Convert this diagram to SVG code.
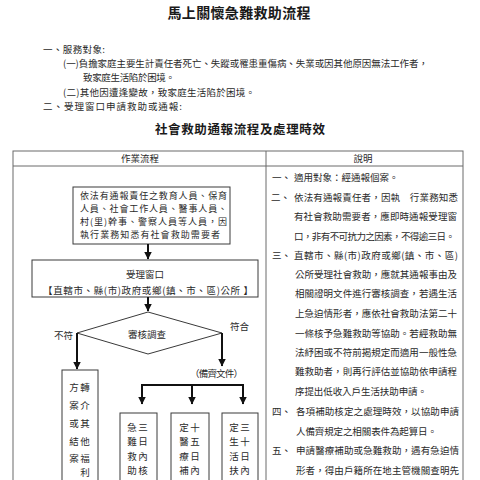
<svg xmlns="http://www.w3.org/2000/svg" width="480" height="480" viewBox="0 0 480 480">
<style>
.t{font-family:"Noto Sans CJK TC","Noto Sans CJK SC",sans-serif;font-size:9.5px;fill:#2a2a2a}
.s{font-size:9px}
.b{font-weight:bold;fill:#1a1a1a}
.box{fill:#fff;stroke:#3a3a3a;stroke-width:1}
.tbl{fill:none;stroke:#6a6a6a;stroke-width:1}
.c{fill:none;stroke:#111;stroke-width:2}
.m{text-anchor:middle}
</style>
<defs>
<marker id="ah" viewBox="0 0 8 8" refX="7.5" refY="4" markerWidth="4" markerHeight="4" orient="auto" markerUnits="strokeWidth">
<path d="M0,0L8,4L0,8Z" fill="#111"/>
</marker>
</defs>
<rect width="480" height="480" fill="#fff"/>

<g id="heading">
<text class="t b m" x="239" y="18" style="font-size:14px" textLength="143" lengthAdjust="spacing">馬上關懷急難救助流程</text>
<text class="t" x="43" y="52.5" textLength="62" lengthAdjust="spacing">一、服務對象:</text>
<text class="t" x="63" y="66.5" textLength="365" lengthAdjust="spacing">(一)負擔家庭主要生計責任者死亡、失蹤或罹患重傷病、失業或因其他原因無法工作者，</text>
<text class="t" x="83" y="80.5" textLength="92" lengthAdjust="spacing">致家庭生活陷於困境。</text>
<text class="t" x="63" y="95.5" textLength="192" lengthAdjust="spacing">(二)其他因遭逢變故，致家庭生活陷於困境。</text>
<text class="t" x="43" y="109.5" textLength="139" lengthAdjust="spacing">二、受理窗口申請救助或通報:</text>
<text class="t b" x="155" y="133.5" style="font-size:12.5px" textLength="170" lengthAdjust="spacing">社會救助通報流程及處理時效</text>
</g>

<g id="table">
<rect class="tbl" x="13" y="151" width="450" height="340"/>
<line class="tbl" x1="13" y1="166" x2="463" y2="166"/>
<line class="tbl" x1="266" y1="151" x2="266" y2="480"/>
<text class="t m" x="140" y="162">作業流程</text>
<text class="t m" x="363" y="162">說明</text>
</g>

<g id="notes">
<text class="t" x="272" y="180.5">一、</text>
<text class="t" x="294" y="180.5">適用對象：經通報個案。</text>
<text class="t" x="271" y="200.5">二、</text>
<text class="t" x="294" y="200.5" textLength="164" lengthAdjust="spacing">依法有通報責任者，因執　行業務知悉</text>
<text class="t" x="294" y="219.5" textLength="163" lengthAdjust="spacing">有社會救助需要者，應即時通報受理窗</text>
<text class="t" x="294" y="239.5" textLength="161" lengthAdjust="spacing">口，非有不可抗力之因素，不得逾三日。</text>
<text class="t" x="272" y="258.5">三、</text>
<text class="t" x="294" y="258.5" textLength="164" lengthAdjust="spacing">直轄市、縣(市)政府或鄉(鎮、市、區)</text>
<text class="t" x="295" y="277.5" textLength="162" lengthAdjust="spacing">公所受理社會救助，應就其通報事由及</text>
<text class="t" x="295" y="296.5" textLength="162" lengthAdjust="spacing">相關證明文件進行審核調查，若遇生活</text>
<text class="t" x="295" y="316.5" textLength="162" lengthAdjust="spacing">上急迫情形者，應依社會救助法第二十</text>
<text class="t" x="295" y="336.5" textLength="162" lengthAdjust="spacing">一條核予急難救助等協助。若經救助無</text>
<text class="t" x="295" y="355.5" textLength="162" lengthAdjust="spacing">法紓困或不符前揭規定而適用一般性急</text>
<text class="t" x="295" y="374.5" textLength="162" lengthAdjust="spacing">難救助者，則再行評估並協助依申請程</text>
<text class="t" x="295" y="394.5" textLength="132" lengthAdjust="spacing">序提出低收入戶生活扶助申請。</text>
<text class="t" x="272" y="414.5">四、</text>
<text class="t" x="296" y="414.5" textLength="163" lengthAdjust="spacing">各項補助核定之處理時效，以協助申請</text>
<text class="t" x="296" y="434.5" textLength="141" lengthAdjust="spacing">人備齊規定之相關表件為起算日。</text>
<text class="t" x="272" y="453.5">五、</text>
<text class="t" x="296" y="453.5" textLength="163" lengthAdjust="spacing">申請醫療補助或急難救助，遇有急迫情</text>
<text class="t" x="296" y="473.5" textLength="163" lengthAdjust="spacing">形者，得由戶籍所在地主管機關查明先</text>
</g>

<g id="reporter">
<rect class="box" x="73" y="187" width="157" height="57"/>
<text class="t s" x="80" y="199" textLength="147" lengthAdjust="spacing">依法有通報責任之教育人員、保育</text>
<text class="t s" x="80" y="212" textLength="147" lengthAdjust="spacing">人員、社會工作人員、醫事人員、</text>
<text class="t s" x="80" y="225" textLength="147" lengthAdjust="spacing">村(里)幹事、警察人員等人員，因</text>
<text class="t s" x="80" y="238" textLength="140" lengthAdjust="spacing">執行業務知悉有社會救助需要者</text>
</g>

<g id="window">
<rect class="box" x="32" y="260" width="226" height="37"/>
<text class="t m" x="145" y="277.5">受理窗口</text>
<text class="t" x="43" y="294" textLength="210" lengthAdjust="spacing">【直轄市、縣(市)政府或鄉(鎮、市、區)公所 】</text>
</g>

<g id="review">
<polygon class="box" points="148,312 222,333 148,354 77,333"/>
<text class="t m" x="147" y="337.5">審核調查</text>
</g>

<g id="labels">
<text class="t" x="54" y="338.5">不符</text>
<text class="t" x="230" y="329.5">符合</text>
<text class="t" x="190" y="376.5" textLength="53" lengthAdjust="spacing">（備齊文件）</text>
</g>

<g id="referral">
<rect class="box" x="62" y="370" width="36" height="120"/>
<g class="t m">
<text x="74" y="390.5">方</text><text x="85" y="390.5">轉</text>
<text x="74" y="408.5">案</text><text x="85" y="408.5">介</text>
<text x="74" y="426.5">或</text><text x="85" y="426.5">其</text>
<text x="74" y="445">結</text><text x="85" y="445">他</text>
<text x="74" y="462">案</text><text x="85" y="462">福</text>
<text x="85" y="476">利</text>
</g>
</g>

<g id="emergency">
<rect class="box" x="120" y="413" width="37" height="80"/>
<g class="t m">
<text x="132" y="430.5">急</text><text x="143" y="430.5">三</text>
<text x="132" y="444.5">難</text><text x="143" y="444.5">日</text>
<text x="132" y="459.5">救</text><text x="143" y="459.5">內</text>
<text x="132" y="473.5">助</text><text x="143" y="473.5">核</text>
</g>
</g>

<g id="medical">
<rect class="box" x="171" y="413" width="38" height="80"/>
<g class="t m">
<text x="184" y="430.5">定</text><text x="195" y="430.5">十</text>
<text x="184" y="444.5">醫</text><text x="195" y="444.5">五</text>
<text x="184" y="459.5">療</text><text x="195" y="459.5">日</text>
<text x="184" y="473.5">補</text><text x="195" y="473.5">內</text>
</g>
</g>

<g id="living">
<rect class="box" x="222" y="413" width="36" height="80"/>
<g class="t m">
<text x="234" y="430.5">定</text><text x="245" y="430.5">三</text>
<text x="234" y="444.5">生</text><text x="245" y="444.5">十</text>
<text x="234" y="459.5">活</text><text x="245" y="459.5">日</text>
<text x="234" y="473.5">扶</text><text x="245" y="473.5">內</text>
</g>
</g>

<g id="connectors">
<line class="c" x1="148" y1="244" x2="148" y2="259" marker-end="url(#ah)"/>
<line class="c" x1="148" y1="297" x2="148" y2="311" marker-end="url(#ah)"/>
<line class="c" x1="77" y1="333" x2="77" y2="369" marker-end="url(#ah)"/>
<line class="c" x1="222" y1="333" x2="222" y2="366" marker-end="url(#ah)"/>
<polyline class="c" points="142,404 142,385 243,385 243,404" marker-end="url(#ah)"/>
<path class="c" d="M142,385V404" marker-end="url(#ah)"/>
<line class="c" x1="192" y1="385" x2="192" y2="404" marker-end="url(#ah)"/>
</g>
</svg>
